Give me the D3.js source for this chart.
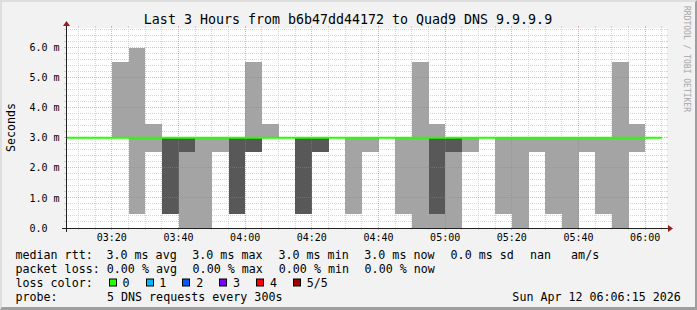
<!DOCTYPE html>
<html><head><meta charset="utf-8">
<script src="https://cdn.jsdelivr.net/npm/d3@7"></script>
<style>html,body{margin:0;padding:0;background:#f2f2f2;}svg{display:block;}</style>
</head><body>
<svg id="c" width="697" height="310"></svg>
<script>
// ---------- data ----------
const titleText = "Last 3 Hours from b6b47dd44172 to Quad9 DNS 9.9.9.9";
const yAxisTitle = "Seconds";
const watermark = "RRDTOOL / TOBI OETIKER";
const rangeStart = "03:06:15";
const rangeEnd = "06:06:15";
// end time of each 5-minute step
const intervalEnds = ["03:10","03:15","03:20","03:25","03:30","03:35","03:40","03:45","03:50","03:55",
  "04:00","04:05","04:10","04:15","04:20","04:25","04:30","04:35","04:40","04:45",
  "04:50","04:55","05:00","05:05","05:10","05:15","05:20","05:25","05:30","05:35",
  "05:40","05:45","05:50","05:55","06:00","06:05"];
// sorted pings (ms): ping1 lowest ... ping5 highest; ping3 = median
const ping1 = [3,3,3,3,0.46,2.54,0.46,0,0,2.54, 0.46,2.54,3,3,0.46,2.54,3,0.46,2.54,3, 0.46,0,0,0,2.54,3,0.46,0,2.54,0.46, 0,2.54,0.46,0,2.54,3];
const ping2 = [3,3,3,3,3,3,0.46,2.54,3,3, 0.46,2.54,3,3,0.46,2.54,3,3,3,3, 3,3,0.46,2.54,3,3,3,3,3,3, 3,3,3,3,3,3];
const ping3 = [3,3,3,3,3,3,3,3,3,3, 3,3,3,3,3,3,3,3,3,3, 3,3,3,3,3,3,3,3,3,3, 3,3,3,3,3,3];
const ping4 = [3,3,3,3,3,3,3,3,3,3, 3,3,3,3,3,3,3,3,3,3, 3,3,3,3,3,3,3,3,3,3, 3,3,3,3,3,3];
const ping5 = [3,3,3,5.52,6.0,3.46,3,3,3,3, 3,5.52,3.46,3,3,3,3,3,3,3, 3,5.52,3.46,3,3,3,3,3,3,3, 3,3,3,5.52,3.46,3];
const yTicks = [0,1,2,3,4,5,6];
const yTickLabels = ["0.0","1.0 m","2.0 m","3.0 m","4.0 m","5.0 m","6.0 m"];
const xTickLabels = ["03:20","03:40","04:00","04:20","04:40","05:00","05:20","05:40","06:00"];
const rttLabel = "median rtt:";
const rttStats = ["3.0 ms avg","3.0 ms max","3.0 ms min","3.0 ms now","0.0 ms sd","nan","am/s"];
const lossLabel = "packet loss:";
const lossStats = ["0.00 % avg","0.00 % max","0.00 % min","0.00 % now"];
const lossColorLabel = "loss color:";
const lossLabels = ["0","1","2","3","4","5/5"];
const lossColors = ["#26ff00","#00b8ff","#0059ff","#7e00ff","#ff0000","#a10000"];
const probeLabel = "probe:";
const probeText = "5 DNS requests every 300s";
const dateText = "Sun Apr 12 06:06:15 2026";

// ---------- layout ----------
const W = 697, H = 310;
const X0 = 66, X1 = 666, Y0 = 228, Y1 = 28;
const FONT = "DejaVu Sans Mono";
const svg = d3.select("#c");
const parse = d3.timeParse("%Y-%m-%d %H:%M:%S");
const T = s => parse("2026-04-12 " + (s.length === 5 ? s + ":00" : s));
const x = d3.scaleTime().domain([T(rangeStart), T(rangeEnd)]).range([X0, X1]);
const y = d3.scaleLinear().domain([0, 6.65]).range([Y0, Y1]);
const px = v => Math.floor(v) + 0.5;

// background + 3d border
svg.append("rect").attr("width", W).attr("height", H).attr("fill", "#f2f2f2");
svg.append("path").attr("d", `M0,${H} L0,0 L${W},0 L${W-2},2 L2,2 L2,${H-2} Z`).attr("fill", "#dedede");
svg.append("path").attr("d", `M${W},0 L${W},${H} L0,${H} L2,${H-3} L${W-2},${H-3} L${W-2},2 Z`).attr("fill", "#9e9e9e");

// canvas
svg.append("rect").attr("x", X0).attr("y", Y1).attr("width", X1 - X0 + 1).attr("height", Y0 - Y1).attr("fill", "#fff");

svg.append("clipPath").attr("id", "plotclip").append("rect")
  .attr("x", X0).attr("y", Y1 - 5).attr("width", X1 - X0).attr("height", Y0 - Y1 + 5);

const steps = intervalEnds.map((e, i) => ({
  t1: T(e), t0: d3.timeMinute.offset(T(e), -5),
  p1: ping1[i], p2: ping2[i], p3: ping3[i], p4: ping4[i], p5: ping5[i]
}));

// grid helpers
const minorCol = "rgba(195,195,195,0.7)", majorCol = "rgba(245,90,90,0.5)";
const majorTimes = xTickLabels.map(T);
const minorTimes = d3.timeMinute.every(5).range(T("03:10"), T("06:06")).filter(t => t.getMinutes() % 20 !== 0);
const yMinor = d3.range(1, 34).map(i => +(i * 0.2).toFixed(1)).filter(v => Math.abs(v - Math.round(v)) > 1e-6);
const yMajor = yTicks.filter(v => v > 0);

function hline(g, v, col) {
  g.append("line").attr("x1", X0).attr("x2", X1).attr("y1", px(y(v))).attr("y2", px(y(v)))
    .attr("stroke", col).attr("stroke-width", 1).attr("stroke-dasharray", "1,1");
  g.append("line").attr("x1", X0 - 2).attr("x2", X0).attr("y1", px(y(v))).attr("y2", px(y(v))).attr("stroke", col);
  g.append("line").attr("x1", X1).attr("x2", X1 + 2).attr("y1", px(y(v))).attr("y2", px(y(v))).attr("stroke", col);
}
function vline(g, t, col) {
  g.append("line").attr("x1", px(x(t))).attr("x2", px(x(t))).attr("y1", Y0).attr("y2", Y1)
    .attr("stroke", col).attr("stroke-width", 1).attr("stroke-dasharray", "1,1");
  g.append("line").attr("x1", px(x(t))).attr("x2", px(x(t))).attr("y1", Y0).attr("y2", Y0 + 2).attr("stroke", col);
  g.append("line").attr("x1", px(x(t))).attr("x2", px(x(t))).attr("y1", Y1 - 2).attr("y2", Y1).attr("stroke", col);
}
const minorGrid = svg.append("g");
yMinor.forEach(v => hline(minorGrid, v, minorCol));
minorTimes.forEach(t => vline(minorGrid, t, minorCol));

const plot = svg.append("g").attr("clip-path", "url(#plotclip)");
// smoke: outer band (ping1..ping5)
plot.append("g").attr("shape-rendering", "crispEdges").selectAll("rect").data(steps).join("rect")
  .attr("x", d => x(d.t0)).attr("width", d => x(d.t1) - x(d.t0))
  .attr("y", d => y(d.p5)).attr("height", d => y(d.p1) - y(d.p5))
  .attr("fill", "#a4a4a4");
// smoke: inner band (ping2..ping4)
plot.append("g").attr("shape-rendering", "crispEdges").selectAll("rect").data(steps).join("rect")
  .attr("x", d => x(d.t0)).attr("width", d => x(d.t1) - x(d.t0))
  .attr("y", d => y(d.p4)).attr("height", d => y(d.p2) - y(d.p4))
  .attr("fill", "#585858");

const majorGrid = svg.append("g");
yMajor.forEach(v => hline(majorGrid, v, majorCol));
majorTimes.forEach(t => vline(majorGrid, t, majorCol));

// median line
const medPts = [{t: d3.max([steps[0].t0, x.domain()[0]]), v: ping3[0]}].concat(steps.map(d => ({t: d.t1, v: d.p3})));
svg.append("g").attr("clip-path", "url(#plotclip)").append("path").datum(medPts)
  .attr("d", d3.line().x(d => x(d.t)).y(d => y(d.v)).curve(d3.curveStepBefore))
  .attr("fill", "none").attr("stroke", lossColors[0]).attr("stroke-width", 2);

// axes
const axisCol = "#222";
svg.append("line").attr("x1", X0 - 4).attr("x2", X1 + 4).attr("y1", Y0 + 0.5).attr("y2", Y0 + 0.5).attr("stroke", axisCol);
svg.append("line").attr("x1", X0 + 0.5).attr("x2", X0 + 0.5).attr("y1", Y0 + 4).attr("y2", Y1 - 4).attr("stroke", axisCol);
svg.append("path").attr("d", `M${X1+2},${Y0-3} L${X1+2},${Y0+4} L${X1+7},${Y0+0.5} Z`).attr("fill", "#9a1c1c");
svg.append("path").attr("d", `M${X0-3},${Y1-2} L${X0+4},${Y1-2} L${X0+0.5},${Y1-7} Z`).attr("fill", "#9a1c1c");

// y labels
svg.append("g").selectAll("text").data(yTicks).join("text")
  .attr("x", 29.5).attr("y", d => y(d) + 3.6).text((d, i) => yTickLabels[i])
  .attr("font-family", FONT).attr("font-size", "10px").attr("fill", "#000").style("white-space", "pre");
// x labels
svg.append("g").selectAll("text").data(majorTimes).join("text")
  .attr("x", d => x(d)).attr("y", 241).attr("text-anchor", "middle").text((d, i) => xTickLabels[i])
  .attr("font-family", FONT).attr("font-size", "10px").attr("fill", "#000");

// title
svg.append("text").attr("x", 348).attr("y", 24).attr("text-anchor", "middle").text(titleText)
  .attr("font-family", FONT).attr("font-size", "13.3px").attr("fill", "#000");
// y axis title
svg.append("text").attr("transform", "translate(14.8,127.5) rotate(-90)").attr("text-anchor", "middle").text(yAxisTitle)
  .attr("font-family", FONT).attr("font-size", "11.6px").attr("fill", "#000");
// watermark
svg.append("text").attr("transform", "translate(684.3,59) rotate(90)").attr("text-anchor", "middle").text(watermark)
  .attr("font-family", FONT).attr("font-size", "8px").attr("fill", "#a6a6a6");

// legend
const LF = "11.67px";
function legText(str, xx, yy, anchor) {
  svg.append("text").attr("x", xx).attr("y", yy).attr("text-anchor", anchor || "start").text(str)
    .attr("font-family", FONT).attr("font-size", LF).attr("fill", "#000").style("white-space", "pre");
}
const rowY = [259.3, 273.1, 286.9, 300.7];
const statX = [106.5, 192.3, 278.5, 364.3, 450.6, 530.0, 571.1];
legText(rttLabel, 15.5, rowY[0]);
rttStats.forEach((s, i) => legText(s, statX[i], rowY[0]));
legText(lossLabel, 15.5, rowY[1]);
lossStats.forEach((s, i) => legText(s, statX[i] + 0.3, rowY[1]));
legText(lossColorLabel, 15.5, rowY[2]);
lossLabels.forEach((s, i) => {
  const bx = 108.7 + i * 36.85;
  svg.append("rect").attr("x", Math.round(bx) + 0.5).attr("y", 279).attr("width", 7).attr("height", 7)
    .attr("fill", lossColors[i]).attr("stroke", "#000").attr("stroke-width", 1);
  legText(s, bx + 13.8, rowY[2]);
});
legText(probeLabel, 15.5, rowY[3]);
legText(probeText, 107, rowY[3]);
legText(dateText, 680.8, rowY[3], "end");
</script>
</body></html>
